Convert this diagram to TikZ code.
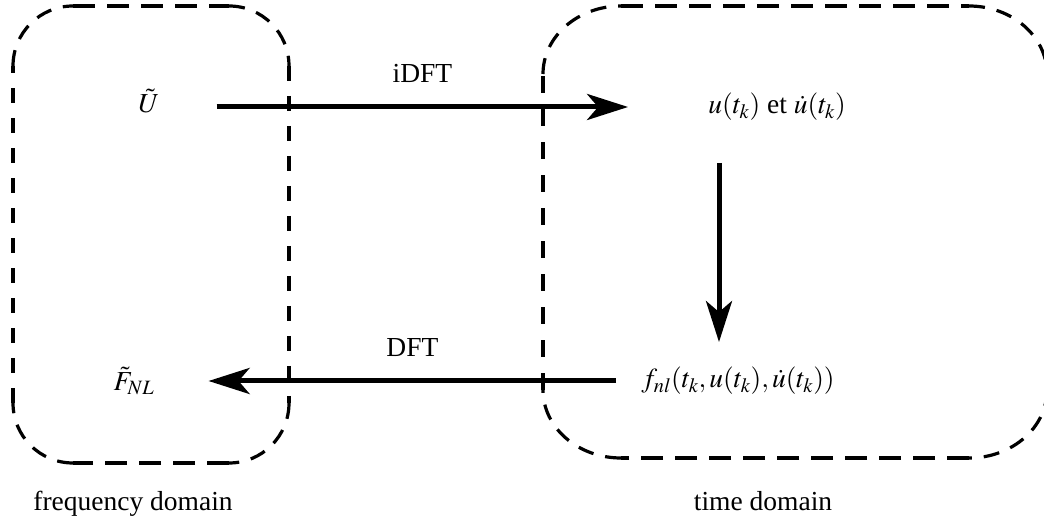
\documentclass[tikz,border=0pt]{standalone}
\usepackage{mathptmx}
\usepackage[no-math]{fontspec}
\setmainfont{Liberation Serif}
\usetikzlibrary{arrows.meta}
\tikzset{
  boxline/.style={line width=3.2pt, line cap=butt},
  hd/.style={boxline, dash pattern=on 22pt off 12pt},
  vdl/.style={boxline, dash pattern=on 15pt off 15pt},
  vdr/.style={boxline, dash pattern=on 17pt off 16pt},
  ad/.style={boxline, dash pattern=on 16pt off 12pt},
  arr/.style={line width=5pt, -{Stealth[length=41pt, width=26pt, inset=11pt]}},
  lbl/.style={inner sep=0pt, font=\fontsize{27.5}{33}\selectfont},
  arrlbl/.style={lbl, anchor=base, midway, yshift=24pt}
}
\begin{document}
\begin{tikzpicture}[x=1pt, y=1pt]
\useasboundingbox (0,0) rectangle (1044,522);
\clip (0,0) rectangle (1044,522);
% left (frequency) box
\draw[hd] (73,516) -- (229,516);
\draw[ad] (229,516) arc[start angle=90, end angle=0, radius=60];
\draw[vdl] (289,456) -- (289,119);
\draw[ad] (289,119) arc[start angle=0, end angle=-90, radius=60];
\draw[hd] (229,59) -- (73,59);
\draw[ad] (73,59) arc[start angle=-90, end angle=-180, radius=60];
\draw[vdl] (13,119) -- (13,456);
\draw[ad] (13,456) arc[start angle=180, end angle=90, radius=60];
% right (time) box
\draw[hd] (621,516) -- (969,516);
\draw[ad] (969,516) arc[start angle=90, end angle=0, x radius=78, y radius=68];
\draw[vdr] (1047,448) -- (1047,132);
\draw[ad] (1047,132) arc[start angle=0, end angle=-90, x radius=78, y radius=68];
\draw[hd] (969,64) -- (621,64);
\draw[ad] (621,64) arc[start angle=-90, end angle=-180, x radius=78, y radius=68];
\draw[vdr] (543,132) -- (543,448);
\draw[ad] (543,448) arc[start angle=180, end angle=90, x radius=78, y radius=68];
% nodes
\node[lbl] (U) at (149,421) {$\tilde{U}$};
\node[lbl] (u) at (777,415) {$u(t_k)$ et $\dot{u}(t_k)$};
\node[lbl] (f) at (738,141) {$f_{nl}(t_k,u(t_k),\dot{u}(t_k))$};
\node[lbl] (F) at (134,141) {$\tilde{F}_{NL}$};
\node[lbl, anchor=base] (fd) at (133,11) {frequency domain};
\node[lbl, anchor=base] (td) at (763,11) {time domain};
\coordinate (vx) at (719,0);
% connectors
\draw[arr] ([xshift=57pt]U.east |- u.west) -- ([xshift=-80pt]u.west)
  node[arrlbl] (il) {iDFT};
\draw[arr] ([yshift=-42pt]u.south -| vx) -- ([yshift=25pt]f.north -| vx);
\draw[arr] ([xshift=-25pt]f.west) -- ([xshift=54pt]F.east |- f.west)
  node[arrlbl] (dl) {DFT};
\end{tikzpicture}
\end{document}
